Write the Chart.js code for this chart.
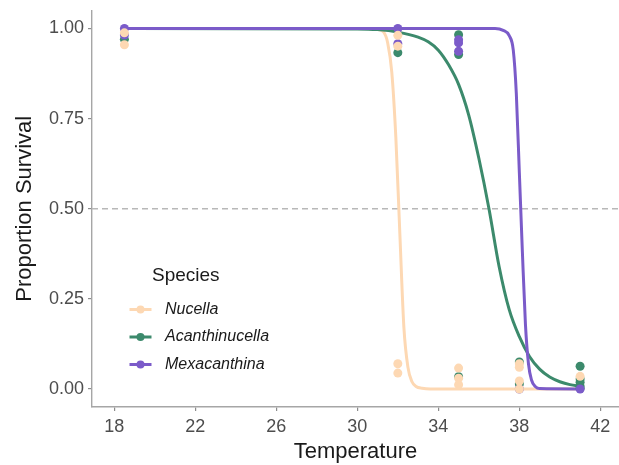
<!DOCTYPE html>
<html>
<head>
<meta charset="utf-8">
<script src="https://cdn.jsdelivr.net/npm/chart.js@4"></script>
<style>
  html, body { margin: 0; padding: 0; background: #ffffff; }
  #wrap { width: 619px; height: 465px; }
</style>
</head>
<body>
<div id="wrap"><canvas id="c" width="619" height="465"></canvas></div>
<script>
// Species names and colours
const speciesNames = ['Nucella', 'Acanthinucella', 'Mexacanthina'];
const speciesColors = ['#FDD8B3', '#3C8A6C', '#7B5BC9'];

// Axis ticks
const xTicks = [18, 22, 26, 30, 34, 38, 42];
const yTicks = [0, 0.25, 0.5, 0.75, 1];
const thresholdLevel = 0.5;

// Observed survival (temperature, proportion) per species
const nucellaObsT = [18.5, 18.5, 32, 32, 32, 32, 35, 35, 35, 38, 38, 38, 38, 41];
const nucellaObsS = [0.955, 0.988, 0.981, 0.951, 0.070, 0.044, 0.058, 0.030, 0.012, 0.070, 0.060, 0.022, 0.000, 0.035];

const acanthObsT = [18.5, 32, 35, 35, 35, 38, 38, 41, 41, 41, 41, 41];
const acanthObsS = [0.970, 0.933, 0.983, 0.928, 0.034, 0.075, 0.014, 0.063, 0.028, 0.019, 0.008, 0.002];

const mexObsT = [18.5, 18.5, 32, 32, 35, 35, 35, 38, 41];
const mexObsS = [1.000, 0.982, 1.000, 0.958, 0.969, 0.960, 0.937, 0.000, 0.000];

// Fitted survival curves per species
const nucellaFitT = [18.5, 30.5, 31.0, 31.3, 31.5, 31.7, 31.9, 32.1, 32.3, 32.5, 32.7, 32.9, 33.2, 33.6, 41];
const nucellaFitS = [1.0, 1.0, 0.997, 0.99, 0.96, 0.88, 0.70, 0.43, 0.17, 0.06, 0.020, 0.007, 0.002, 0.0, 0.0];

const acanthFitT = [18.5, 30, 31, 32, 33, 33.5, 34, 34.5, 35, 35.5, 36, 36.5, 37, 37.5, 38, 38.5, 39, 39.5, 40, 40.5, 41];
const acanthFitS = [1.0, 0.999, 0.997, 0.99, 0.976, 0.963, 0.94, 0.90, 0.845, 0.76, 0.64, 0.50, 0.34, 0.22, 0.145, 0.09, 0.055, 0.033, 0.02, 0.012, 0.008];

const mexFitT = [18.5, 36.8, 37.2, 37.5, 37.7, 37.85, 38.0, 38.15, 38.3, 38.45, 38.6, 38.8, 39.0, 41];
const mexFitS = [1.0, 1.0, 0.995, 0.98, 0.94, 0.82, 0.60, 0.38, 0.18, 0.07, 0.025, 0.006, 0.001, 0.0];

const toXY = (xs, ys) => xs.map((x, i) => ({ x: x, y: ys[i] }));

const FONT = "'Liberation Sans', Arial, Helvetica, sans-serif";

function fitDataset(idx, xs, ys, order) {
  return {
    label: speciesNames[idx] + ' fit',
    data: toXY(xs, ys),
    showLine: true,
    borderColor: speciesColors[idx],
    borderWidth: 3,
    pointRadius: 0,
    pointHoverRadius: 0,
    cubicInterpolationMode: 'monotone',
    fill: false,
    order: order
  };
}

function obsDataset(idx, xs, ys, order) {
  return {
    label: speciesNames[idx],
    data: toXY(xs, ys),
    showLine: false,
    backgroundColor: speciesColors[idx],
    borderWidth: 0,
    pointRadius: 4.5,
    pointHoverRadius: 4.5,
    order: order
  };
}

// Dashed reference line at 50% survival
const thresholdLine = {
  id: 'thresholdLine',
  beforeDatasetsDraw(chart) {
    const { ctx, chartArea, scales } = chart;
    const y = scales.y.getPixelForValue(thresholdLevel);
    ctx.save();
    ctx.strokeStyle = '#B8B8B8';
    ctx.lineWidth = 1.3;
    ctx.setLineDash([6, 4]);
    ctx.beginPath();
    ctx.moveTo(chartArea.left, y);
    ctx.lineTo(chartArea.right, y);
    ctx.stroke();
    ctx.restore();
  }
};

// Legend drawn inside the panel
const speciesLegend = {
  id: 'speciesLegend',
  afterDraw(chart) {
    const ctx = chart.ctx;
    const left = 129.5, titleY = 276, firstY = 309.5, step = 27.5;
    ctx.save();
    ctx.fillStyle = '#1a1a1a';
    ctx.font = '19px ' + FONT;
    ctx.textBaseline = 'middle';
    ctx.textAlign = 'left';
    ctx.fillText('Species', 152, titleY);
    speciesNames.forEach((name, i) => {
      const y = firstY + i * step;
      ctx.strokeStyle = speciesColors[i];
      ctx.lineWidth = 3;
      ctx.beginPath();
      ctx.moveTo(left, y);
      ctx.lineTo(left + 22, y);
      ctx.stroke();
      ctx.fillStyle = speciesColors[i];
      ctx.beginPath();
      ctx.arc(left + 11, y, 4, 0, Math.PI * 2);
      ctx.fill();
      ctx.fillStyle = '#1a1a1a';
      ctx.font = 'italic 16px ' + FONT;
      ctx.fillText(name, 165, y);
    });
    ctx.restore();
  }
};

new Chart(document.getElementById('c'), {
  type: 'scatter',
  data: {
    datasets: [
      obsDataset(0, nucellaObsT, nucellaObsS, 1),
      obsDataset(2, mexObsT, mexObsS, 2),
      obsDataset(1, acanthObsT, acanthObsS, 3),
      fitDataset(2, mexFitT, mexFitS, 4),
      fitDataset(1, acanthFitT, acanthFitS, 5),
      fitDataset(0, nucellaFitT, nucellaFitS, 6)
    ]
  },
  options: {
    responsive: false,
    animation: false,
    events: [],
    layout: { autoPadding: false, padding: { top: 10.5, right: 0, left: 0, bottom: 0 } },
    plugins: {
      legend: { display: false },
      tooltip: { enabled: false }
    },
    scales: {
      x: {
        type: 'linear',
        min: 16.9,
        max: 42.92,
        afterBuildTicks(scale) { scale.ticks = xTicks.map(v => ({ value: v })); },
        afterFit(scale) {
          scale.height = 58;
          scale.paddingLeft = 0;
          scale.paddingRight = 0;
        },
        ticks: {
          font: { family: FONT, size: 18 },
          color: '#4D4D4D',
          padding: 5,
          maxRotation: 0,
          callback: v => String(v)
        },
        grid: {
          display: true,
          drawOnChartArea: false,
          drawTicks: true,
          tickLength: 4,
          color: '#8C8C8C',
          lineWidth: 1.2
        },
        border: { display: true, color: '#A6A6A6', width: 1.4 },
        title: {
          display: true,
          text: 'Temperature',
          font: { family: FONT, size: 22 },
          color: '#1a1a1a',
          padding: { top: 0, bottom: 0 }
        }
      },
      y: {
        type: 'linear',
        min: -0.05,
        max: 1.05,
        afterBuildTicks(scale) { scale.ticks = yTicks.map(v => ({ value: v })); },
        afterFit(scale) {
          scale.width = 92;
          scale.paddingTop = 0;
          scale.paddingBottom = 0;
        },
        ticks: {
          font: { family: FONT, size: 18 },
          color: '#4D4D4D',
          padding: 4,
          callback: v => Number(v).toFixed(2)
        },
        grid: {
          display: true,
          drawOnChartArea: false,
          drawTicks: true,
          tickLength: 4,
          color: '#8C8C8C',
          lineWidth: 1.2
        },
        border: { display: true, color: '#A6A6A6', width: 1.4 },
        title: {
          display: true,
          text: 'Proportion Survival',
          font: { family: FONT, size: 22 },
          color: '#1a1a1a',
          padding: { top: 12, bottom: 0 }
        }
      }
    }
  },
  plugins: [thresholdLine, speciesLegend]
});
</script>
</body>
</html>
